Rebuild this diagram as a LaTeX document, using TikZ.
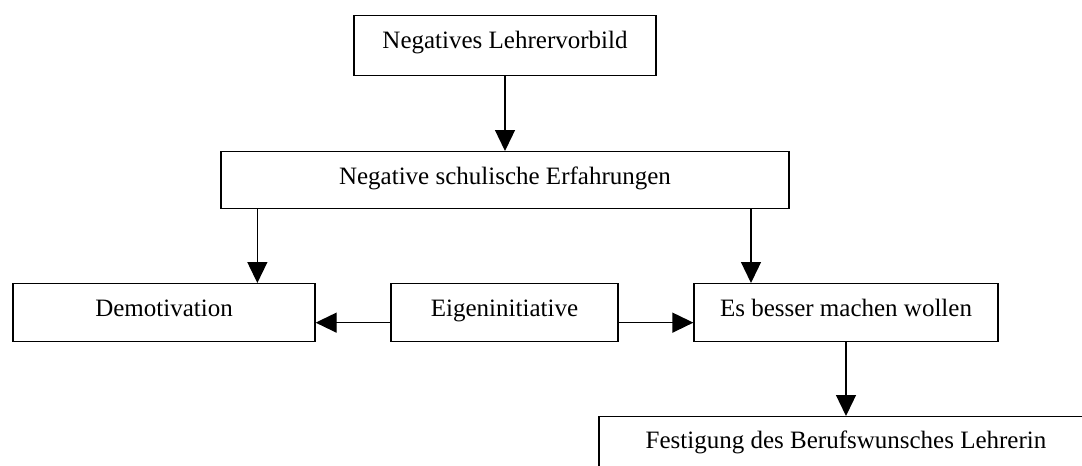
\documentclass[tikz,border=0pt]{standalone}
\usepackage{fontspec}
\setmainfont{Liberation Serif}
\usetikzlibrary{arrows.meta}
\begin{document}
\begin{tikzpicture}[x=1pt,y=-1pt,
  box/.style={draw, line width=1.3pt, anchor=north, inner xsep=0pt, inner ysep=0pt,
    text height=33pt, font=\fontsize{25}{30}\selectfont},
  arr/.style={line width=1.3pt, -{Triangle[length=21pt,width=20pt]}}]
\useasboundingbox (0,0) rectangle (1082,466);
\clip (0,0) rectangle (1082,466);

% boxes
\node[box, minimum width=302pt, text depth=27pt] (vorbild) at (505,15) {Negatives Lehrervorbild};
\node[box, minimum width=568pt, text depth=24pt] (schule) at (505,151) {Negative schulische Erfahrungen};
\node[box, minimum width=302pt, text depth=25pt] (demot) at (164,283) {Demotivation};
\node[box, minimum width=227pt, text depth=25pt] (eigen) at (504.5,283) {Eigeninitiative};
\node[box, minimum width=304pt, text depth=25pt] (besser) at (846,283) {Es besser machen wollen};
\node[box, minimum width=494pt, text height=32pt, text depth=60pt] (fest) at (846,416) {Festigung des Berufswunsches Lehrerin};

% connectors
\draw[arr] (vorbild.south) -- (schule.north);
\draw[arr] ([xshift=37pt]schule.south west) -- ([xshift=37pt]schule.south west |- demot.north);
\draw[arr] ([xshift=-95pt]besser.north |- schule.south) -- ([xshift=-95pt]besser.north);
\draw[arr] ([yshift=-10pt]eigen.west) -- ([yshift=-10pt]eigen.west -| demot.east);
\draw[arr] ([yshift=-10pt]eigen.east) -- ([yshift=-10pt]eigen.east -| besser.west);
\draw[arr] (besser.south) -- (fest.north);
\end{tikzpicture}
\end{document}
